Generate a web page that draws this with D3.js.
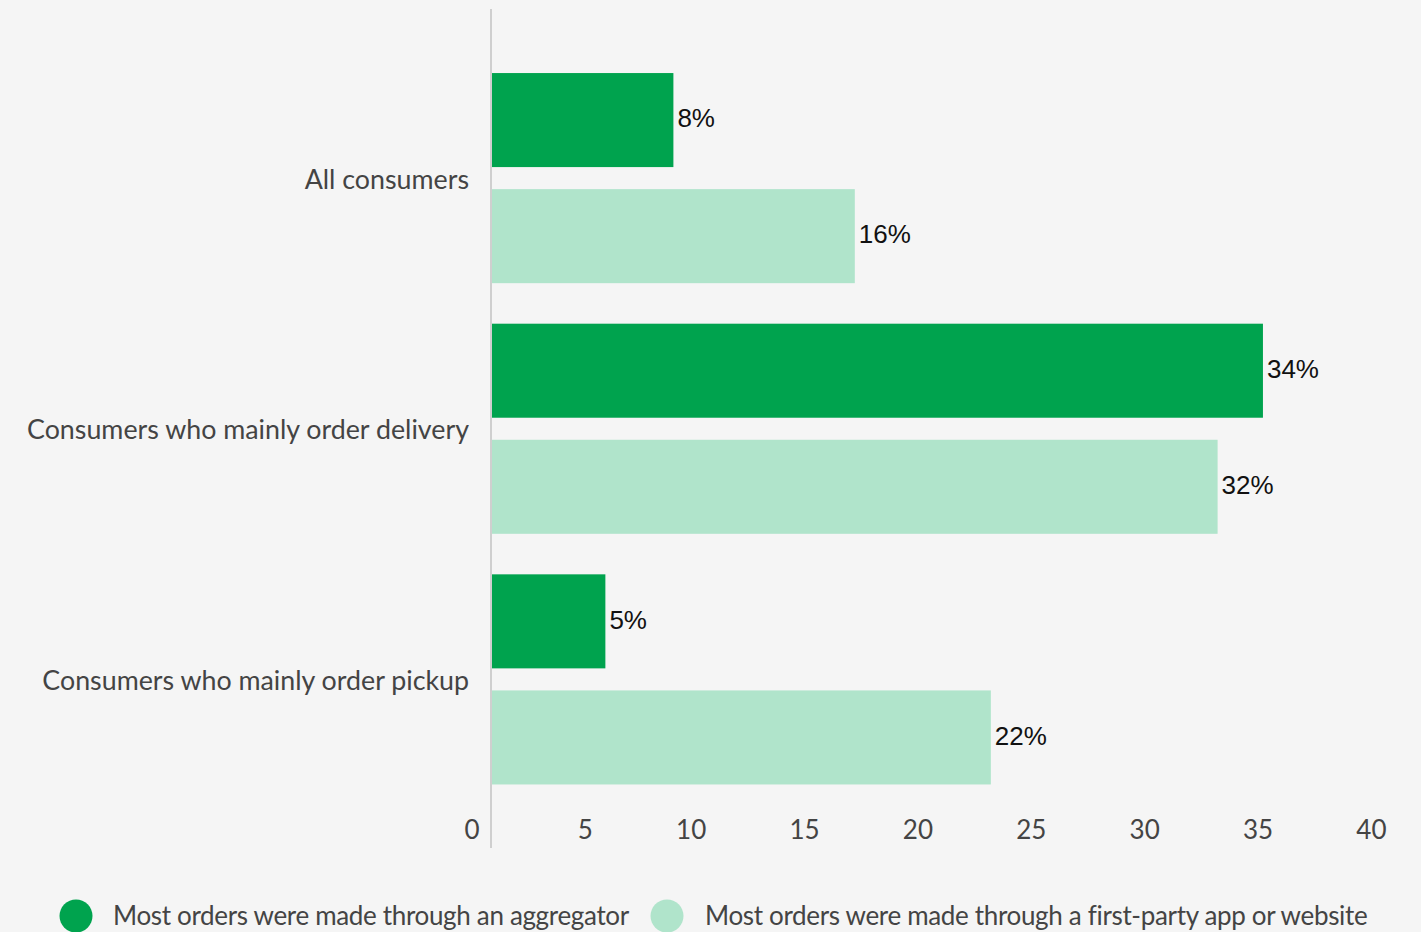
<!DOCTYPE html>
<html>
<head>
<meta charset="utf-8">
<script src="https://cdn.jsdelivr.net/npm/d3@7"></script>
<style>
  html, body { margin: 0; padding: 0; background: #f5f5f5; }
  svg { display: block; }
</style>
</head>
<body>
<svg id="chart" width="1421" height="932"></svg>
<script>
// Consumer groups shown on the vertical axis
const categories = [
  "All consumers",
  "Consumers who mainly order delivery",
  "Consumers who mainly order pickup"
];
// Series (percent of consumers)
const seriesNames = [
  "Most orders were made through an aggregator",
  "Most orders were made through a first-party app or website"
];
const aggregatorValues = [8, 34, 5];
const firstPartyValues = [16, 32, 22];
const xTicks = [0, 5, 10, 15, 20, 25, 30, 35, 40];
const seriesColors = ["#00a34e", "#b0e4cb"];

const svg = d3.select("#chart");
const W = 1421, H = 932;

svg.append("rect").attr("width", W).attr("height", H).attr("fill", "#f5f5f5");

const x = d3.scaleLinear().domain([0, 40]).range([492, 1399]);
const y0 = d3.scaleBand().domain(categories).range([53, 804.5])
  .paddingInner(0.1617).paddingOuter(0.08);
const y1 = d3.scaleBand().domain([0, 1]).range([0, y0.bandwidth()]).paddingInner(0.19);

const rows = categories.map((c, i) => ({
  category: c,
  values: [aggregatorValues[i], firstPartyValues[i]]
}));

// Bars
const groups = svg.append("g").selectAll("g")
  .data(rows).join("g")
  .attr("transform", d => `translate(0,${y0(d.category)})`);

groups.selectAll("rect")
  .data(d => d.values.map((v, s) => ({ v, s })))
  .join("rect")
  .attr("x", x(0))
  .attr("y", d => y1(d.s))
  .attr("width", d => x(d.v) - x(0))
  .attr("height", y1.bandwidth())
  .attr("fill", d => seriesColors[d.s]);

// Value labels
groups.selectAll("text")
  .data(d => d.values.map((v, s) => ({ v, s })))
  .join("text")
  .attr("x", d => x(d.v) + 4)
  .attr("y", d => y1(d.s) + y1.bandwidth() / 2)
  .attr("dy", "0.28em")
  .attr("font-family", "'Liberation Sans', Arial, sans-serif")
  .attr("font-size", 26)
  .attr("fill", "#111")
  .text(d => d.v + "%");

// Vertical axis line
svg.append("line")
  .attr("x1", 491).attr("x2", 491)
  .attr("y1", 9).attr("y2", 848)
  .attr("stroke", "#cfcfcf").attr("stroke-width", 2);

// Category labels
svg.append("g").selectAll("text")
  .data(categories).join("text")
  .attr("x", 469)
  .attr("y", d => y0(d) + y0.bandwidth() / 2)
  .attr("dy", "0.4em")
  .attr("text-anchor", "end")
  .attr("font-family", "Lato, sans-serif")
  .attr("font-size", 26.8)
  .attr("fill", "#444")
  .text(d => d);

// X tick labels
const xAxis = d3.axisBottom(x).tickValues(xTicks).tickSize(0).tickPadding(0);
const ax = svg.append("g").attr("transform", "translate(0,830)").call(xAxis);
ax.select(".domain").remove();
ax.selectAll("text")
  .attr("x", -13)
  .attr("y", 0)
  .attr("dy", "0.35em")
  .attr("text-anchor", "end")
  .attr("font-family", "Lato, sans-serif")
  .attr("font-size", 26)
  .attr("fill", "#444");

// Legend
const legendItems = [
  { name: seriesNames[0], color: seriesColors[0], cx: 76, tx: 113 },
  { name: seriesNames[1], color: seriesColors[1], cx: 667, tx: 705 }
];
const lg = svg.append("g");
lg.selectAll("circle").data(legendItems).join("circle")
  .attr("cx", d => d.cx).attr("cy", 916).attr("r", 16.5)
  .attr("fill", d => d.color);
lg.selectAll("text").data(legendItems).join("text")
  .attr("x", d => d.tx).attr("y", 916).attr("dy", "0.35em")
  .attr("font-family", "Lato, sans-serif")
  .attr("font-size", 26)
  .attr("letter-spacing", "-0.33px")
  .attr("fill", "#444")
  .text(d => d.name);
</script>
</body>
</html>
